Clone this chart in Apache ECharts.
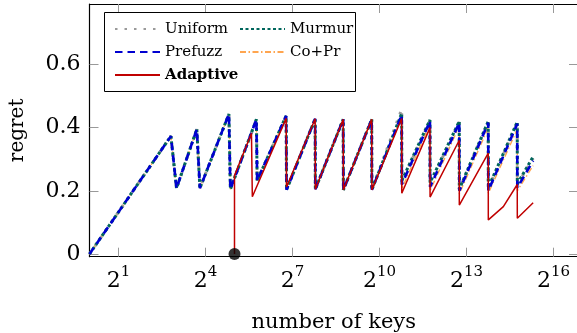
<!DOCTYPE html>
<html>
<head>
<meta charset="utf-8">
<script src="https://cdn.jsdelivr.net/npm/echarts@6/dist/echarts.min.js"></script>
<style>
  html, body { margin: 0; padding: 0; background: #fff; }
  #chart { width: 577px; height: 333px; }
</style>
</head>
<body>
<div id="chart"></div>
<script>
// Tick positions (powers of two) and y ticks
const xTickExponents = [1, 4, 7, 10, 13, 16];
const yTicks = [0, 0.2, 0.4, 0.6];

// Shared part of the non-adaptive filters (number of keys, regret)
const baseKeys   = [1, 7, 8, 13, 14, 28, 29, 54, 55, 110, 111, 220, 221, 430, 432, 850, 853];
const baseRegret = [0, 0.373, 0.208, 0.395, 0.208, 0.443, 0.205, 0.426, 0.232, 0.437, 0.203, 0.428, 0.205, 0.426, 0.203, 0.426, 0.203];

// Tails beyond 2^10 keys, where the hash choices separate slightly
const tailKeys       = [1740, 1745, 3420, 3430, 6890, 6900, 13780, 13800, 27560, 27600, 40300];
const uniformTail    = [0.458, 0.228, 0.422, 0.222, 0.418, 0.205, 0.418, 0.208, 0.415, 0.220, 0.303];
const murmurTail     = [0.445, 0.232, 0.424, 0.226, 0.420, 0.205, 0.420, 0.210, 0.418, 0.222, 0.308];
const prefuzzTail    = [0.440, 0.220, 0.420, 0.212, 0.415, 0.200, 0.415, 0.200, 0.412, 0.210, 0.295];
const coprTail       = [0.435, 0.205, 0.412, 0.200, 0.405, 0.190, 0.400, 0.192, 0.395, 0.200, 0.280];

// Adaptive filter, switched on at 32 keys
const adaptiveKeys   = [32, 32, 48, 49, 110, 111, 220, 221, 430, 432, 850, 853, 1740, 1745, 3420, 3430, 6890, 6900, 13780, 13800, 19770, 27560, 27600, 40300];
const adaptiveRegret = [0, 0.248, 0.382, 0.181, 0.429, 0.212, 0.428, 0.205, 0.426, 0.203, 0.426, 0.203, 0.429, 0.192, 0.400, 0.180, 0.360, 0.155, 0.319, 0.108, 0.150, 0.220, 0.113, 0.162];

// Switch-over marker
const markerKeys = [32];
const markerRegret = [0];

const toPoints = (keys, vals) => keys.map((k, i) => [Math.log2(k), vals[i]]);
const withTail = tail => toPoints(baseKeys.concat(tailKeys), baseRegret.concat(tail));

const FONT = 'DejaVu Serif';
const X_MIN = 0, X_MAX = 16.845;
const Y_MIN = -0.0085, Y_MAX = 0.791;

const tickStyle = { color: '#999', width: 1 };
const axisLineStyle = { color: '#000', width: 1.2 };

const chart = echarts.init(document.getElementById('chart'), null, { renderer: 'canvas' });

const lineSeries = (name, data, color, width, dash, z) => ({
  name, type: 'line', data, showSymbol: false, symbol: 'none', z,
  animation: false,
  lineStyle: { color, width, type: dash, cap: 'butt' },
  itemStyle: { color }
});

const legendBase = {
  orient: 'vertical', top: 20, padding: 0, itemGap: 5,
  itemWidth: 45, itemHeight: 14, z: 5,
  itemStyle: { opacity: 0 },
  textStyle: { fontFamily: FONT, fontSize: 15, color: '#000', lineHeight: 18 }
};

chart.setOption({
  animation: false,
  backgroundColor: '#fff',
  grid: { left: 89.5, right: -1, top: 4, bottom: 76.3, containLabel: false, outerBoundsMode: 'none' },
  graphic: [{
    type: 'rect', z: 3,
    shape: { x: 104.5, y: 12.5, width: 251, height: 79 },
    style: { fill: '#fff', stroke: '#000', lineWidth: 1 }
  }],
  legend: [
    Object.assign({}, legendBase, {
      left: 114,
      data: ['Uniform', 'Prefuzz', { name: 'Adaptive', textStyle: { fontWeight: 'bold' } }]
    }),
    Object.assign({}, legendBase, {
      left: 239,
      data: ['Murmur', 'Co+Pr']
    })
  ],
  xAxis: [
    {
      type: 'value', min: X_MIN, max: X_MAX, position: 'bottom',
      axisLine: { onZero: false, lineStyle: axisLineStyle },
      axisTick: { inside: true, length: 9, customValues: xTickExponents, lineStyle: tickStyle },
      axisLabel: {
        customValues: xTickExponents, margin: 8, color: '#000',
        formatter: v => '{b|2}{s|' + v + '}',
        rich: {
          b: { fontFamily: FONT, fontSize: 22, color: '#000', lineHeight: 28, verticalAlign: 'bottom' },
          s: { fontFamily: FONT, fontSize: 15, color: '#000', lineHeight: 15, verticalAlign: 'top' }
        }
      },
      splitLine: { show: false },
      name: 'number of keys', nameLocation: 'middle', nameGap: 55,
      nameTextStyle: { fontFamily: FONT, fontSize: 21, color: '#000' }
    },
    {
      type: 'value', min: X_MIN, max: X_MAX, position: 'top',
      axisLine: { onZero: false, lineStyle: axisLineStyle },
      axisTick: { inside: true, length: 9, customValues: xTickExponents, lineStyle: tickStyle },
      axisLabel: { show: false }, splitLine: { show: false }
    }
  ],
  yAxis: [
    {
      type: 'value', min: Y_MIN, max: Y_MAX, position: 'left',
      axisLine: { show: true, onZero: false, lineStyle: axisLineStyle },
      axisTick: { show: true, inside: true, length: 9, customValues: yTicks, lineStyle: tickStyle },
      axisLabel: {
        customValues: yTicks, margin: 9, color: '#000',
        fontFamily: FONT, fontSize: 22,
        formatter: v => (v === 0 ? '0' : v.toFixed(1))
      },
      splitLine: { show: false },
      name: 'regret', nameLocation: 'middle', nameGap: 62,
      nameTextStyle: { fontFamily: FONT, fontSize: 20, color: '#000' }
    },
    {
      type: 'value', min: Y_MIN, max: Y_MAX, position: 'right',
      axisLine: { show: true, onZero: false, lineStyle: axisLineStyle },
      axisTick: { show: true, inside: true, length: 9, customValues: yTicks, lineStyle: tickStyle },
      axisLabel: { show: false }, splitLine: { show: false }
    }
  ],
  series: [
    lineSeries('Co+Pr',   withTail(coprTail),    '#ffa54f', 1.4, [6, 2.5, 1.5, 2.5], 2),
    lineSeries('Uniform', withTail(uniformTail), '#9a9a9a', 3, [2.5, 7], 2),
    lineSeries('Murmur',  withTail(murmurTail),  '#00665c', 3, [3, 2.5], 2),
    lineSeries('Prefuzz', withTail(prefuzzTail), '#0000d0', 2.6, [7.5, 5], 2),
    lineSeries('Adaptive', toPoints(adaptiveKeys, adaptiveRegret), '#c00000', 1.5, 'solid', 2),
    {
      type: 'scatter', data: toPoints(markerKeys, markerRegret),
      symbol: 'circle', symbolSize: 12, z: 10,
      itemStyle: { color: '#000' }, silent: true, animation: false
    }
  ]
});
</script>
</body>
</html>
